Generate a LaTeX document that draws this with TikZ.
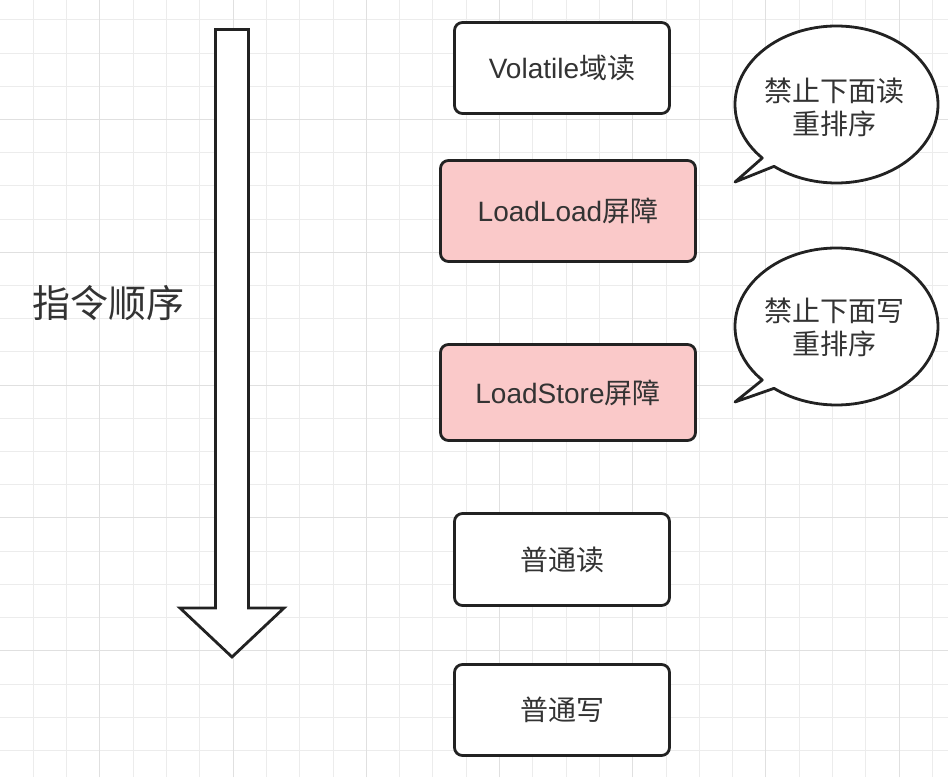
\documentclass[tikz,border=0pt]{standalone}
\usepackage{fontspec}
\setmainfont{Liberation Sans}
\newfontfamily\cjk{Noto Sans CJK SC}
\definecolor{gridminor}{RGB}{236,236,236}
\definecolor{gridmajor}{RGB}{224,224,224}
\definecolor{ink}{RGB}{34,34,34}
\definecolor{txt}{RGB}{51,51,51}
\definecolor{barrier}{RGB}{250,201,201}
\tikzset{
  shapeline/.style={draw=ink, line width=2.8pt},
  stepbox/.style={shapeline, rounded corners=8pt, fill=white, text=txt,
    font=\fontsize{28pt}{33pt}\selectfont, inner sep=0pt},
  barrierbox/.style={stepbox, fill=barrier},
  bubbletext/.style={text=txt, align=center, font=\cjk\fontsize{28pt}{33pt}\selectfont, inner sep=0pt},
}
\begin{document}
\begin{tikzpicture}[x=1pt,y=1pt]
\useasboundingbox (0,0) rectangle (948,777);
\fill[white] (0,0) rectangle (948,777);
% grid
\foreach \k in {1,...,28} \draw[gridminor, line width=1pt] ({\k*33.3},0) -- ({\k*33.3},777);
\foreach \k in {0,...,22} \draw[gridminor, line width=1pt] (0,{757-\k*33.2}) -- (948,{757-\k*33.2});
\foreach \k in {3,7,...,27} \draw[gridmajor, line width=1pt] ({\k*33.3},0) -- ({\k*33.3},777);
\foreach \k in {3,7,11,15,19} \draw[gridmajor, line width=1pt] (0,{757-\k*33.2}) -- (948,{757-\k*33.2});

% big arrow
\draw[shapeline, fill=white, line join=miter]
  (215.5,747.5) -- (215.5,169) -- (180,169) -- (232,120) -- (284,169) -- (248.5,169) -- (248.5,747.5) -- cycle;
\node[text=txt, font=\cjk\fontsize{38pt}{44pt}\selectfont, inner sep=0pt] (order) at (108.5,474) {指令顺序};

% boxes
\node[stepbox, minimum width=215pt, minimum height=91pt] (v) at (562,709) {Volatile{\cjk 域读}};
\node[barrierbox, minimum width=255pt, minimum height=101pt] (ll) at (568,566) {LoadLoad{\cjk 屏障}};
\node[barrierbox, minimum width=255pt, minimum height=96pt] (ls) at (568,384.5) {LoadStore{\cjk 屏障}};
\node[stepbox, minimum width=215pt, minimum height=92pt] (r) at (562,217.5) {\cjk 普通读};
\node[stepbox, minimum width=215pt, minimum height=91pt] (w) at (562,67) {\cjk 普通写};

% speech bubbles
\coordinate (c1) at (836.5,672.5);
\coordinate (t1) at (735,595);
\draw[shapeline, fill=white, line join=round]
  (t1) -- ([shift={(223:101.5 and 78.5)}]c1)
  arc[start angle=223, end angle=-128, x radius=101.5, y radius=78.5] -- cycle;
\node[bubbletext] (b1) at (834,670) {禁止下面读\\重排序};

\coordinate (c2) at (836.5,450.5);
\coordinate (t2) at (735,375);
\draw[shapeline, fill=white, line join=round]
  (t2) -- ([shift={(223:101.5 and 78.5)}]c2)
  arc[start angle=223, end angle=-128, x radius=101.5, y radius=78.5] -- cycle;
\node[bubbletext] (b2) at (834,450) {禁止下面写\\重排序};
\end{tikzpicture}
\end{document}
